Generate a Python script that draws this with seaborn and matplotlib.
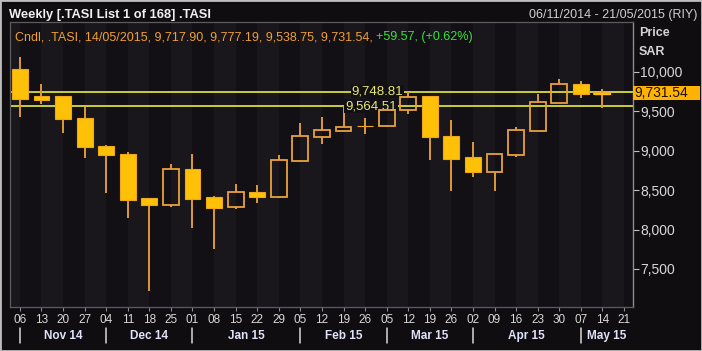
import matplotlib
matplotlib.use("Agg")
import numpy as np
import seaborn as sns
import matplotlib.pyplot as plt
import matplotlib.transforms as mtransforms
from matplotlib.patches import Rectangle

# weekly candles, 06 Nov 2014 .. 14 May 2015
week_labels = ["06", "13", "20", "27", "04", "11", "18", "25", "01", "08", "15", "22", "29",
               "05", "12", "19", "26", "05", "12", "19", "26", "02", "09", "16", "23", "30",
               "07", "14", "21"]
opens = [10034, 9688, 9688, 9417, 9062, 8961, 8400, 8307, 8763, 8412, 8282, 8472, 8416,
         8872, 9176, 9252, 9316, 9312, 9515, 9692, 9189, 8915, 8733, 8945, 9252, 9600,
         9844, 9717.90]
highs = [10182, 9844, 9690, 9557, 9070, 8979, 8405, 8827, 8957, 8429, 8581, 8564, 8945,
         9346, 9430, 9564.51, 9410, 9520, 9748.81, 9695, 9388, 9113, 8953, 9295, 9714, 9904,
         9886, 9777.19]
lows = [9430, 9590, 9219, 8910, 8467, 8142, 7225, 8282, 8016, 7750, 8256, 8332, 8400,
        8860, 9084, 9245, 9210, 9296, 9464, 8881, 8485, 8669, 8488, 8923, 9252, 9600,
        9663, 9538.75]
closes = [9650, 9645, 9401, 9050, 8945, 8378, 8307, 8767, 8391, 8273, 8472, 8408, 8885,
          9185, 9261, 9303, 9308, 9515, 9683, 9169, 8898, 8729, 8953, 9261, 9612, 9840,
          9714, 9731.54]
month_starts = [0, 4, 8, 13, 17, 21, 26]
month_labels = ["Nov 14", "Dec 14", "Jan 15", "Feb 15", "Mar 15", "Apr 15", "May 15"]
level_values = [9748.81, 9564.51]
level_label_x = [16.57, 16.27]
price_ticks = [7500, 8000, 8500, 9000, 9500, 10000]
last_close = 9731.54

BG = "#0f0d10"
PLOT_BG = "#121014"
STRIPE = "#1a171c"
AMBER = "#ffc107"
EDGE = "#e8a23a"
WICK = "#e09a36"
LEVEL = "#ecec3a"

sns.set_theme(style="dark", rc={"axes.facecolor": PLOT_BG, "figure.facecolor": BG,
                                "axes.edgecolor": "#5c5c5c", "axes.grid": False})
plt.rcParams['font.family'] = ['Liberation Sans', 'DejaVu Sans']

fig = plt.figure(figsize=(7.02, 3.51), dpi=100)
ax = fig.add_axes([10 / 702, 1 - 307 / 351, 623 / 702, 285 / 351])

o = np.array(opens)
c = np.array(closes)
x = np.arange(len(o))
up = c >= o
top = np.maximum(o, c)
bot = np.minimum(o, c)

# faint alternating week bands of the terminal background
for i in range(-1, len(week_labels), 2):
    ax.axvspan(i, i + 1, color=STRIPE, lw=0, zorder=0)

ax.vlines(x, top, highs, color=WICK, lw=1.4, zorder=2)
ax.vlines(x, lows, bot, color=WICK, lw=1.4, zorder=2)
ax.bar(x[~up], (o - c)[~up], bottom=c[~up], width=0.74, color=AMBER,
       edgecolor="#f0a818", linewidth=0.8, zorder=3)
ax.bar(x[up], np.maximum((c - o)[up], 8), bottom=o[up], width=0.74, facecolor="none",
       edgecolor=EDGE, linewidth=1.3, zorder=3)
# last candle is barely taller than its border
ax.bar(x[-1:], c[-1:] - o[-1:], bottom=o[-1:], width=0.74, color=AMBER,
       edgecolor=AMBER, linewidth=1.0, zorder=4)

for v, lx in zip(level_values, level_label_x):
    ax.axhline(v, color=LEVEL, lw=1.2, zorder=1.5)
    ax.text(lx, v, f"{v:,.2f}", color="#e8e870", fontsize=9.5, ha="center", va="center",
            zorder=2.5, bbox=dict(facecolor=PLOT_BG, edgecolor="none", pad=0.6))

ax.set_xlim(-0.46, 28.42)
ax.set_ylim(7018, 10630)

ax.set_xticks(np.arange(len(week_labels)))
ax.set_xticklabels(week_labels)
ax.tick_params(axis="x", bottom=True, length=3, width=0.8, color="#8a8a8a",
               labelsize=8.5, labelcolor="#d8d8d8", pad=2)

ax.yaxis.tick_right()
ax.set_yticks(price_ticks)
ax.set_yticklabels([f"{t:,}" for t in price_ticks])
ax.tick_params(axis="y", right=True, left=False, length=4, width=0.8, color="#c0c0c0",
               labelsize=10, labelcolor="#d8d8d8", pad=1)
for s in ["left", "top", "bottom"]:
    ax.spines[s].set_color("#5c5c5c")
    ax.spines[s].set_linewidth(0.9)
ax.spines["right"].set_color("#8c8c8c")
ax.spines["right"].set_linewidth(1.0)

# month row under the week numbers
bt = mtransforms.blended_transform_factory(ax.transData, fig.transFigure)
bounds = month_starts + [28.42]
for i, lab in enumerate(month_labels):
    ax.plot([month_starts[i]] * 2, [1 - 328 / 351, 1 - 343 / 351], color="#d8d8d8",
            lw=1.1, transform=bt, clip_on=False)
    ax.text((bounds[i] + bounds[i + 1]) / 2, 1 - 336 / 351, lab, transform=bt,
            ha="center", va="center", fontsize=8.5, fontweight="bold", color="#dfe2f8")

# current price tag on the axis
pt = mtransforms.blended_transform_factory(ax.transAxes, ax.transData)
ax.add_patch(Rectangle((1.0, last_close - 88), 67 / 623, 176, transform=pt,
                       facecolor="#ffb300", edgecolor="none", clip_on=False, zorder=5))
ax.text(1.003, last_close, f"{last_close:,.2f}", transform=pt, ha="left", va="center",
        fontsize=10, color="#1a1000", zorder=6)

fig.text(639 / 702, 1 - 33 / 351, "Price", fontsize=9, fontweight="bold", color="#d4d4d4",
         va="center")
fig.text(639 / 702, 1 - 52 / 351, "SAR", fontsize=9, fontweight="bold", color="#d4d4d4",
         va="center")
fig.text(9 / 702, 1 - 15 / 351, "Weekly [.TASI List 1 of 168] .TASI", fontsize=9.3,
         fontweight="bold", color="#f0f0f0", va="center")
fig.text(697 / 702, 1 - 15 / 351, "06/11/2014 - 21/05/2015 (RIY)", fontsize=9,
         color="#cfcfcf", va="center", ha="right")

head = fig.text(15 / 702, 1 - 37 / 351,
                "Cndl, .TASI, 14/05/2015, 9,717.90, 9,777.19, 9,538.75, 9,731.54, ",
                fontsize=9, color="#f0a030", va="center")
fig.canvas.draw()
bb = head.get_window_extent().transformed(fig.transFigure.inverted())
fig.text(bb.x1, 1 - 37 / 351, "+59.57, (+0.62%)", fontsize=9, color="#3ae03a", va="center")

fig.patches.append(Rectangle((0, 0), 1, 1, transform=fig.transFigure, fill=False,
                             edgecolor="#bdbdbd", linewidth=2))

fig.savefig("out.png", dpi=100, facecolor=BG)
